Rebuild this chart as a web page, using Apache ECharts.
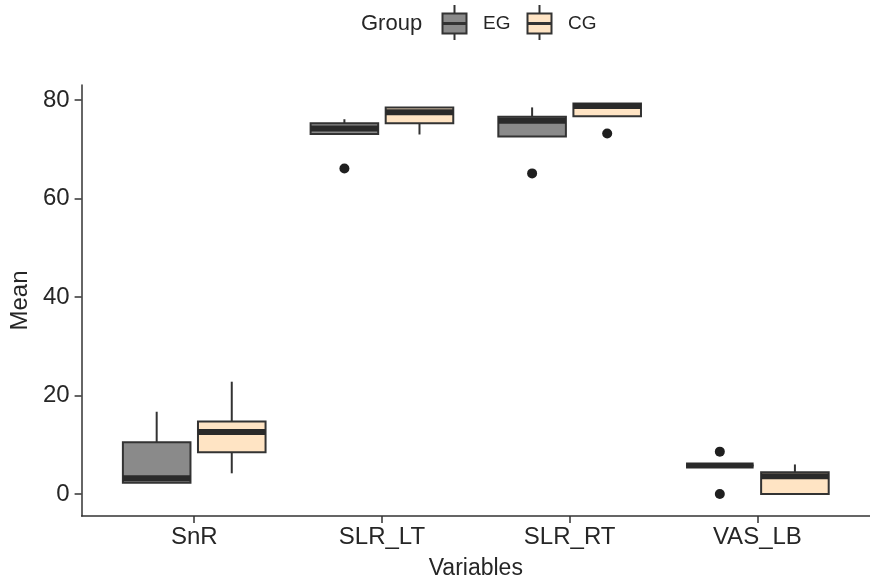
<!DOCTYPE html>
<html>
<head>
<meta charset="utf-8">
<script src="https://cdn.jsdelivr.net/npm/echarts@6/dist/echarts.min.js"></script>
<style>
html, body { margin: 0; padding: 0; background: #fff; }
#main { width: 870px; height: 586px; }
</style>
</head>
<body>
<div id="main"></div>
<script>
var categories = ["SnR", "SLR_LT", "SLR_RT", "VAS_LB"];
// [min, q1, median, q3, max]
var egStats = [
  [2.3, 2.3, 3.2, 10.5, 16.7],
  [73.1, 73.1, 74.2, 75.3, 76.1],
  [72.6, 72.6, 75.8, 76.6, 78.5],
  [5.8, 5.8, 5.8, 5.8, 5.8]
];
var cgStats = [
  [4.2, 8.5, 12.6, 14.7, 22.8],
  [73.0, 75.3, 77.5, 78.5, 78.5],
  [76.7, 76.7, 78.8, 79.3, 79.3],
  [0, 0, 3.6, 4.4, 6.0]
];
// [category index, value]
var egOutliers = [[1, 66.1], [2, 65.1], [3, 8.6], [3, 0]];
var cgOutliers = [[2, 73.2]];
var yTicks = [0, 20, 40, 60, 80];
var xTicks = [1, 2, 3, 4];

var DODGE = 0.2;
var BOX_W = 0.36;
var FONT = "Liberation Sans, Arial, sans-serif";
var EG_FILL = "#8a8a8a";
var CG_FILL = "#ffe4c4";
var LINE = "#333333";
var TEXT = "#262626";

function boxData(stats, off) {
  return stats.map(function (s, i) { return [i + 1 + off].concat(s); });
}
function outData(list, off) {
  return list.map(function (o) { return [o[0] + 1 + off, o[1]]; });
}

function renderBox(fill) {
  return function (params, api) {
    var x = api.value(0);
    var pMin = api.coord([x, api.value(1)]);
    var pQ1 = api.coord([x, api.value(2)]);
    var pMed = api.coord([x, api.value(3)]);
    var pQ3 = api.coord([x, api.value(4)]);
    var pMax = api.coord([x, api.value(5)]);
    var hw = api.size([BOX_W, 0])[0] / 2;
    var cx = pMin[0];
    var ls = { stroke: LINE, lineWidth: 2 };
    return {
      type: "group",
      children: [
        { type: "line", shape: { x1: cx, y1: pQ3[1], x2: cx, y2: pMax[1] }, style: ls },
        { type: "line", shape: { x1: cx, y1: pQ1[1], x2: cx, y2: pMin[1] }, style: ls },
        { type: "rect", shape: { x: cx - hw, y: pQ3[1], width: hw * 2, height: pQ1[1] - pQ3[1] },
          style: { fill: fill, stroke: LINE, lineWidth: 2 } },
        { type: "line", shape: { x1: cx - hw, y1: pMed[1], x2: cx + hw, y2: pMed[1] },
          style: { stroke: "#2a2a2a", lineWidth: 6 } }
      ]
    };
  };
}

function legendIcon(x, fill) {
  return [
    { type: "line", shape: { x1: x + 12, y1: 5, x2: x + 12, y2: 40 }, style: { stroke: LINE, lineWidth: 2 } },
    { type: "rect", shape: { x: x, y: 13.5, width: 24, height: 20 }, style: { fill: fill, stroke: LINE, lineWidth: 2 } },
    { type: "line", shape: { x1: x, y1: 23.5, x2: x + 24, y2: 23.5 }, style: { stroke: LINE, lineWidth: 3 } }
  ];
}

var chart = echarts.init(document.getElementById("main"), null, { renderer: "canvas" });

var legendItems = [
  { type: "text", x: 361, y: 24, style: { text: "Group", font: "22px " + FONT, fill: TEXT, verticalAlign: "middle" } }
]
  .concat(legendIcon(442.5, EG_FILL))
  .concat([{ type: "text", x: 483, y: 24, style: { text: "EG", font: "19px " + FONT, fill: TEXT, verticalAlign: "middle" } }])
  .concat(legendIcon(527.5, CG_FILL))
  .concat([{ type: "text", x: 568, y: 24, style: { text: "CG", font: "19px " + FONT, fill: TEXT, verticalAlign: "middle" } }]);

chart.setOption({
  animation: false,
  backgroundColor: "#fff",
  grid: { left: 77, top: 85, width: 802, bottom: 70 },
  xAxis: {
    type: "value",
    min: 0.4,
    max: 4.6,
    name: "Variables",
    nameLocation: "middle",
    nameGap: 41,
    nameTextStyle: { fontFamily: FONT, fontSize: 23, color: TEXT },
    axisLine: { show: true, onZero: false, lineStyle: { color: LINE, width: 1.5 } },
    axisTick: { show: true, length: 7, customValues: xTicks, lineStyle: { color: LINE, width: 1.5 } },
    axisLabel: {
      customValues: xTicks,
      margin: 9,
      fontFamily: FONT,
      fontSize: 24,
      color: TEXT,
      formatter: function (v) { return categories[Math.round(v) - 1]; }
    },
    splitLine: { show: false }
  },
  yAxis: {
    type: "value",
    min: -4.47,
    max: 83.05,
    name: "Mean",
    nameLocation: "middle",
    nameGap: 42,
    nameTextStyle: { fontFamily: FONT, fontSize: 24, color: TEXT },
    axisLine: { show: true, onZero: false, lineStyle: { color: LINE, width: 1.5 } },
    axisTick: { show: true, length: 7, customValues: yTicks, lineStyle: { color: LINE, width: 1.5 } },
    axisLabel: {
      customValues: yTicks,
      margin: 12,
      fontFamily: FONT,
      fontSize: 24,
      color: TEXT
    },
    splitLine: { show: false }
  },
  graphic: [{ type: "group", children: legendItems }],
  series: [
    {
      name: "EG",
      type: "custom",
      renderItem: renderBox(EG_FILL),
      encode: { x: 0, y: [1, 2, 3, 4, 5] },
      data: boxData(egStats, -DODGE),
      z: 2
    },
    {
      name: "CG",
      type: "custom",
      renderItem: renderBox(CG_FILL),
      encode: { x: 0, y: [1, 2, 3, 4, 5] },
      data: boxData(cgStats, DODGE),
      z: 2
    },
    {
      name: "EG outliers",
      type: "scatter",
      symbolSize: 10,
      itemStyle: { color: "#1f1f1f", opacity: 1 },
      data: outData(egOutliers, -DODGE),
      z: 3
    },
    {
      name: "CG outliers",
      type: "scatter",
      symbolSize: 10,
      itemStyle: { color: "#1f1f1f", opacity: 1 },
      data: outData(cgOutliers, DODGE),
      z: 3
    }
  ]
});
</script>
</body>
</html>
